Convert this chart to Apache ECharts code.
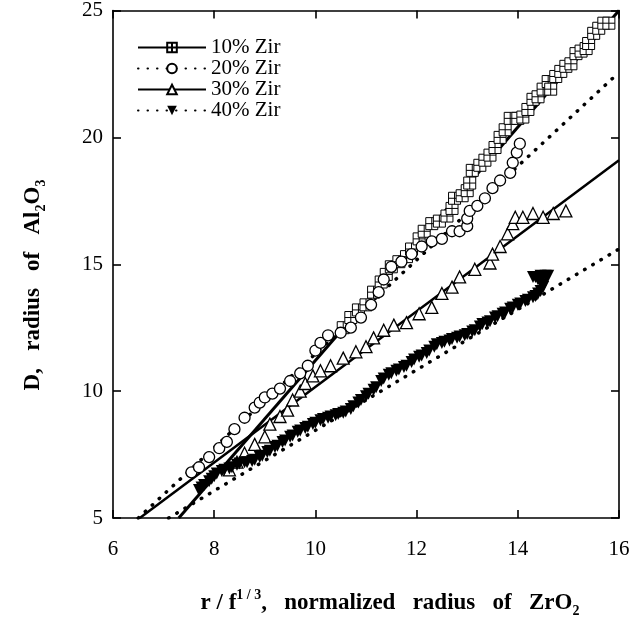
<!DOCTYPE html>
<html><head><meta charset="utf-8">
<script src="https://cdn.jsdelivr.net/npm/echarts@6/dist/echarts.min.js"></script>
<style>html,body{margin:0;padding:0;background:#fff}#c{width:641px;height:624px}</style>
</head><body><div id="c"></div>
<script>
const seriesNames = ['10% Zir', '20% Zir', '30% Zir', '40% Zir'];
const xTicks = [6, 8, 10, 12, 14, 16];
const yTicks = [5, 10, 15, 20, 25];

const zir10 = [[10.55,12.5],[10.7,12.9],[10.85,13.2],[11.0,13.4],[11.15,13.9],[11.3,14.3],[11.4,14.6],[11.5,14.9],[11.65,15.1],[11.8,15.3],[11.9,15.6],[12.05,16.0],[12.15,16.3],[12.3,16.6],[12.45,16.7],[12.6,16.9],[12.7,17.2],[12.75,17.6],[12.9,17.7],[13.0,17.9],[13.05,18.2],[13.1,18.7],[13.25,18.9],[13.35,19.1],[13.45,19.3],[13.55,19.6],[13.65,20.0],[13.75,20.3],[13.85,20.75],[14.0,20.75],[14.1,20.8],[14.2,21.1],[14.3,21.5],[14.4,21.6],[14.5,21.9],[14.6,22.2],[14.65,21.9],[14.75,22.4],[14.85,22.6],[14.95,22.8],[15.05,22.9],[15.15,23.3],[15.25,23.4],[15.35,23.5],[15.4,23.7],[15.5,24.1],[15.6,24.3],[15.7,24.5],[15.8,24.5]];
const zir20 = [[7.55,6.8],[7.7,7.0],[7.9,7.4],[8.1,7.75],[8.25,8.0],[8.4,8.5],[8.6,8.95],[8.8,9.35],[8.9,9.55],[9.0,9.75],[9.15,9.9],[9.3,10.1],[9.5,10.4],[9.7,10.7],[9.85,11.0],[10.0,11.6],[10.1,11.9],[10.25,12.2],[10.5,12.3],[10.7,12.5],[10.9,12.9],[11.1,13.4],[11.25,13.9],[11.35,14.4],[11.5,14.9],[11.7,15.1],[11.9,15.4],[12.1,15.7],[12.3,15.9],[12.5,16.0],[12.7,16.3],[12.85,16.3],[13.0,16.5],[13.0,16.8],[13.05,17.1],[13.2,17.3],[13.35,17.6],[13.5,18.0],[13.65,18.3],[13.85,18.6],[13.9,19.0],[13.98,19.4],[14.04,19.75]];
const zir30 = [[8.3,6.9],[8.45,7.2],[8.6,7.55],[8.8,7.9],[9.0,8.2],[9.1,8.7],[9.3,9.0],[9.45,9.25],[9.55,9.65],[9.7,10.0],[9.8,10.3],[9.95,10.6],[10.1,10.8],[10.3,11.0],[10.55,11.3],[10.8,11.55],[11.0,11.75],[11.15,12.1],[11.35,12.4],[11.55,12.6],[11.8,12.7],[12.05,13.05],[12.3,13.3],[12.5,13.85],[12.7,14.1],[12.85,14.5],[13.15,14.8],[13.45,15.05],[13.5,15.4],[13.65,15.7],[13.8,16.2],[13.9,16.6],[13.95,16.85],[14.1,16.85],[14.3,17.0],[14.5,16.85],[14.7,17.0],[14.95,17.1]];
const zir40 = [[7.7,6.1],[7.75,6.2],[7.8,6.3],[7.9,6.45],[7.95,6.55],[8.0,6.65],[8.05,6.75],[8.15,6.85],[8.2,6.9],[8.3,6.95],[8.35,7.0],[8.45,7.1],[8.5,7.15],[8.6,7.2],[8.65,7.2],[8.75,7.25],[8.8,7.3],[8.9,7.4],[8.95,7.45],[9.05,7.6],[9.1,7.65],[9.2,7.8],[9.25,7.85],[9.35,8.0],[9.4,8.05],[9.5,8.2],[9.55,8.25],[9.65,8.4],[9.7,8.45],[9.8,8.55],[9.85,8.6],[9.95,8.7],[10.0,8.75],[10.1,8.85],[10.15,8.9],[10.25,8.95],[10.3,9.0],[10.4,9.05],[10.45,9.1],[10.55,9.15],[10.6,9.2],[10.7,9.3],[10.75,9.4],[10.85,9.55],[10.9,9.65],[11.0,9.8],[11.05,9.9],[11.15,10.05],[11.2,10.15],[11.3,10.4],[11.35,10.5],[11.45,10.65],[11.5,10.7],[11.6,10.8],[11.65,10.85],[11.75,10.95],[11.8,11.0],[11.9,11.15],[11.95,11.25],[12.05,11.35],[12.1,11.4],[12.2,11.5],[12.25,11.6],[12.35,11.75],[12.4,11.85],[12.5,11.9],[12.55,11.95],[12.65,12.0],[12.7,12.05],[12.8,12.1],[12.85,12.15],[12.95,12.2],[13.0,12.25],[13.1,12.35],[13.15,12.4],[13.25,12.55],[13.3,12.65],[13.4,12.7],[13.45,12.75],[13.55,12.9],[13.6,12.95],[13.7,13.05],[13.75,13.1],[13.85,13.25],[13.9,13.3],[14.0,13.4],[14.05,13.45],[14.15,13.55],[14.2,13.6],[14.3,13.7],[14.35,13.75],[14.4,13.85],[14.45,13.95],[14.5,14.1],[14.5,14.2],[14.45,14.35],[14.4,14.4],[14.3,14.5],[14.35,14.5],[14.45,14.55],[14.55,14.55],[14.6,14.55]];

const fit10 = [[7.3,5],[16,25]];
const fit20 = [[6.5,5],[16,22.56]];
const fit30 = [[6.53,5],[16,19.1]];
const fit40 = [[7.1,5],[16,15.6]];

const FONT = '"Liberation Serif", "Times New Roman", serif';
const gridSym = 'path://M0,0H10V10H0Z M5,0V10 M0,5H10';
const dotted = [0.5, 9];

function axisCommon(extra) {
  return Object.assign({
    type: 'value',
    axisLine: { show: true, onZero: false, lineStyle: { color: '#000', width: 1.6 } },
    axisTick: { show: true, inside: true, length: 8, lineStyle: { color: '#000', width: 1.6 } },
    splitLine: { show: false },
    axisLabel: { color: '#000', fontFamily: FONT, fontSize: 21 }
  }, extra);
}

const chart = echarts.init(document.getElementById('c'), null, { renderer: 'canvas' });
chart.setOption({
  animation: false,
  backgroundColor: '#fff',
  grid: { left: 113, right: 22, top: 10, bottom: 106 },
  xAxis: [
    axisCommon({ min: xTicks[0], max: xTicks[xTicks.length - 1], interval: 2, position: 'bottom',
      axisLabel: { color: '#000', fontFamily: FONT, fontSize: 21, margin: 21 } }),
    axisCommon({ min: xTicks[0], max: xTicks[xTicks.length - 1], interval: 2, position: 'top',
      axisLabel: { show: false } })
  ],
  yAxis: [
    axisCommon({ min: yTicks[0], max: yTicks[yTicks.length - 1], interval: 5, position: 'left',
      axisLabel: { color: '#000', fontFamily: FONT, fontSize: 21, margin: 10 } }),
    axisCommon({ min: yTicks[0], max: yTicks[yTicks.length - 1], interval: 5, position: 'right',
      axisLabel: { show: false } })
  ],
  legend: {
    left: 132, top: 32, orient: 'vertical', itemWidth: 68, itemHeight: 12, itemGap: 0,
    data: seriesNames,
    textStyle: { color: '#000', fontFamily: FONT, fontSize: 21, lineHeight: 18 }
  },
  series: [
    { name: seriesNames[0], type: 'line', data: fit10, showSymbol: false, symbol: gridSym, symbolSize: 10,
      lineStyle: { color: '#000', width: 3 }, itemStyle: { color: '#fff', borderColor: '#000', borderWidth: 1 }, z: 2 },
    { name: seriesNames[1], type: 'line', data: fit20, showSymbol: false, symbol: 'emptyCircle', symbolSize: 10,
      lineStyle: { color: '#000', width: 3.5, type: dotted, cap: 'round' }, itemStyle: { color: '#000', borderColor: '#000', borderWidth: 1 }, z: 2 },
    { name: seriesNames[2], type: 'line', data: fit30, showSymbol: false, symbol: 'emptyTriangle', symbolSize: 10,
      lineStyle: { color: '#000', width: 2.5 }, itemStyle: { color: '#000', borderColor: '#000', borderWidth: 1 }, z: 2 },
    { name: seriesNames[3], type: 'line', data: fit40, showSymbol: false, symbol: 'triangle', symbolRotate: 180, symbolSize: 11,
      lineStyle: { color: '#000', width: 3.5, type: dotted, cap: 'round' }, itemStyle: { color: '#000' }, z: 2 },
    { name: seriesNames[0], type: 'scatter', data: zir10, symbol: gridSym, symbolSize: 12,
      itemStyle: { color: '#fff', borderColor: '#000', borderWidth: 1, opacity: 1 }, z: 3 },
    { name: seriesNames[1], type: 'scatter', data: zir20, symbol: 'circle', symbolSize: 11,
      itemStyle: { color: '#fff', borderColor: '#000', borderWidth: 1.3, opacity: 1 }, z: 3 },
    { name: seriesNames[2], type: 'scatter', data: zir30, symbol: 'triangle', symbolSize: 12,
      itemStyle: { color: '#fff', borderColor: '#000', borderWidth: 1.3, opacity: 1 }, z: 3 },
    { name: seriesNames[3], type: 'scatter', data: zir40, symbol: 'triangle', symbolRotate: 180, symbolSize: 12,
      itemStyle: { color: '#000', opacity: 1 }, z: 3 }
  ],
  graphic: [
    { type: 'text', x: 33, y: 285, rotation: Math.PI / 2,
      style: {
        text: '{b|D,   radius   of   Al}{s|2}{b|O}{s|3}',
        align: 'center', verticalAlign: 'middle',
        rich: {
          b: { fontFamily: FONT, fontSize: 23, fontWeight: 'bold', color: '#000', lineHeight: 30, verticalAlign: 'middle' },
          s: { fontFamily: FONT, fontSize: 14, fontWeight: 'bold', color: '#000', lineHeight: 14, verticalAlign: 'bottom' }
        }
      } },
    { type: 'text', x: 390, y: 603,
      style: {
        text: '{b|r / f}{p|1 / 3}{b|,   normalized   radius   of   ZrO}{s|2}',
        align: 'center', verticalAlign: 'middle',
        rich: {
          b: { fontFamily: FONT, fontSize: 23, fontWeight: 'bold', color: '#000', lineHeight: 30, verticalAlign: 'middle' },
          p: { fontFamily: FONT, fontSize: 14, fontWeight: 'bold', color: '#000', lineHeight: 14, verticalAlign: 'top' },
          s: { fontFamily: FONT, fontSize: 14, fontWeight: 'bold', color: '#000', lineHeight: 14, verticalAlign: 'bottom' }
        }
      } }
  ]
});
</script></body></html>
